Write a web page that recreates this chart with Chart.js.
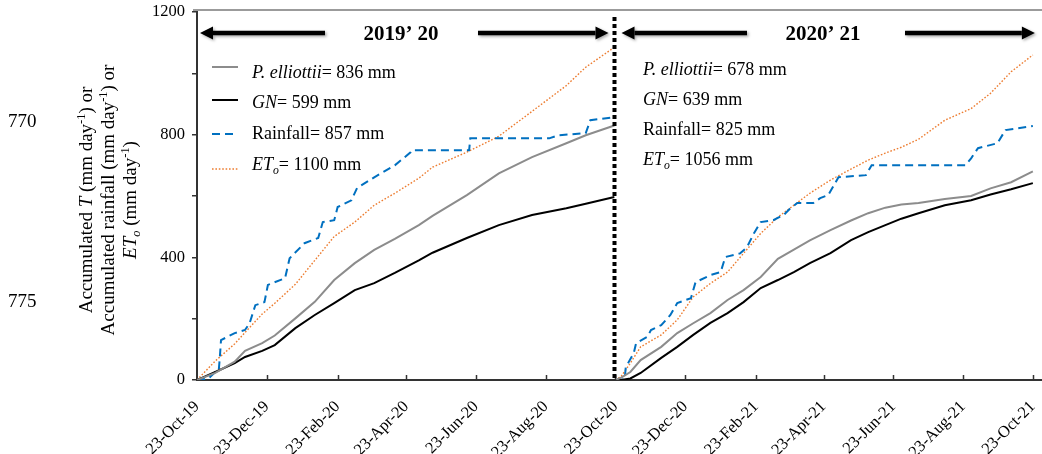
<!DOCTYPE html>
<html>
<head>
<meta charset="utf-8">
<script src="https://cdn.jsdelivr.net/npm/chart.js@4.4.0/dist/chart.umd.min.js"></script>
<style>
  html, body { margin: 0; padding: 0; background: #fff; }
</style>
</head>
<body>
<canvas id="chart" width="1042" height="454"></canvas>
<script>
// x axis: days since 23-Oct-19
const tickDays = [0, 61, 123, 183, 244, 305, 366, 427, 489, 548, 609, 670, 731];
const tickLabels = ['23-Oct-19', '23-Dec-19', '23-Feb-20', '23-Apr-20', '23-Jun-20', '23-Aug-20',
  '23-Oct-20', '23-Dec-20', '23-Feb-21', '23-Apr-21', '23-Jun-21', '23-Aug-21', '23-Oct-21'];
const yLabelled = [0, 400, 800, 1200];
const splitDay = 366;

// season 2019'20
const days1 = [0, 16, 33, 42, 57, 68, 86, 103, 120, 138, 155, 173, 194, 206, 236, 264, 293, 323, 340, 365];
const pinus1 = [0, 23, 60, 95, 120, 145, 201, 255, 326, 381, 424, 460, 505, 535, 603, 674, 727, 772, 798, 830];
const gn1 = [0, 26, 55, 75, 95, 114, 169, 212, 251, 293, 316, 349, 390, 415, 463, 505, 538, 560, 575, 597];
const eto1 = [0, 62, 118, 155, 215, 250, 312, 390, 468, 515, 570, 609, 658, 694, 743, 795, 876, 960, 1020, 1085];
const rainDays1 = [0, 10, 16, 19, 20, 21, 33, 42, 46, 51, 59, 62, 77, 81, 94, 106, 110, 120, 123, 135, 140,
  155, 173, 187, 188, 238, 239, 308, 316, 340, 344, 365];
const rain1 = [0, 5, 26, 30, 75, 130, 153, 163, 185, 244, 254, 310, 332, 397, 446, 463, 515, 521, 564, 586, 626,
  661, 700, 743, 749, 749, 788, 788, 798, 805, 847, 857];

// season 2020'21
const days2 = [366, 371, 379, 388, 406, 420, 434, 449, 464, 478, 493, 508, 522, 536, 554, 572, 587, 602, 616,
  631, 654, 677, 694, 712, 731];
const pinus2 = [0, 8, 26, 65, 108, 153, 185, 218, 261, 293, 336, 395, 425, 455, 489, 520, 544, 562, 572,
  577, 590, 600, 625, 645, 680];
const gn2 = [0, 0, 5, 23, 72, 108, 147, 186, 218, 254, 300, 326, 352, 381, 414, 456, 482, 505, 526,
  544, 570, 586, 605, 622, 642];
const eto2 = [0, 12, 55, 108, 147, 196, 271, 315, 352, 413, 478, 531, 570, 609, 652, 688, 717, 740, 759,
  785, 847, 885, 935, 1005, 1060];
const rainDays2 = [366, 374, 375, 382, 384, 394, 397, 406, 414, 420, 432, 436, 449, 458, 462, 475, 481, 487,
  493, 504, 513, 519, 525, 539, 545, 552, 561, 585, 589, 590, 672, 677, 683, 700, 707, 731];
const rain2 = [0, 2, 42, 88, 120, 141, 163, 179, 212, 251, 267, 319, 342, 352, 401, 413, 433, 478,
  515, 521, 538, 560, 577, 577, 593, 603, 661, 668, 694, 700, 700, 723, 756, 772, 815, 828];

const totals1 = [836, 599, 857, 1100];
const totals2 = [678, 639, 825, 1056];

const SERIF = '"Liberation Serif", "Times New Roman", serif';
const styles = {
  pinus: { color: '#8c8c8c', width: 2, dash: [] },
  gn: { color: '#000000', width: 2, dash: [] },
  rain: { color: '#0070C0', width: 2, dash: [8, 5] },
  eto: { color: '#ED7D31', width: 1.4, dash: [1.6, 1.8] }
};

function series(days, vals, st) {
  return {
    data: days.map((d, i) => ({ x: d, y: vals[i] })),
    borderColor: st.color,
    borderWidth: st.width,
    borderDash: st.dash,
    pointRadius: 0,
    tension: 0,
    fill: false
  };
}

// rich text: runs of {t, i, b, sub, sup}
function runFont(r, size) {
  const s = (r.sub || r.sup) ? size * 0.65 : size;
  return (r.i ? 'italic ' : '') + (r.b ? 'bold ' : '') + s + 'px ' + SERIF;
}
function runsWidth(ctx, runs, size) {
  let w = 0;
  runs.forEach(r => { ctx.font = runFont(r, size); w += ctx.measureText(r.t).width; });
  return w;
}
function drawRuns(ctx, runs, x, y, size) {
  runs.forEach(r => {
    ctx.font = runFont(r, size);
    let dy = 0;
    if (r.sub) dy = size * 0.22;
    if (r.sup) dy = -size * 0.38;
    ctx.fillText(r.t, x, y + dy);
    x += ctx.measureText(r.t).width;
  });
}

function legendRuns(name, total) {
  if (name === 'pinus') return [{ t: 'P. elliottii', i: true }, { t: '= ' + total + ' mm' }];
  if (name === 'gn') return [{ t: 'GN', i: true }, { t: '= ' + total + ' mm' }];
  if (name === 'rain') return [{ t: 'Rainfall= ' + total + ' mm' }];
  return [{ t: 'ET', i: true }, { t: 'o', i: true, sub: true }, { t: '= ' + total + ' mm' }];
}

function arrow(ctx, x0, x1, y) {
  // shaft from x0 to head at x1
  const dir = x1 > x0 ? 1 : -1;
  const headL = 13, headW = 6.5;
  ctx.beginPath();
  ctx.moveTo(x0, y);
  ctx.lineTo(x1 - dir * headL, y);
  ctx.lineWidth = 4.5;
  ctx.strokeStyle = '#000';
  ctx.stroke();
  ctx.beginPath();
  ctx.moveTo(x1, y);
  ctx.lineTo(x1 - dir * headL, y - headW);
  ctx.lineTo(x1 - dir * headL, y + headW);
  ctx.closePath();
  ctx.fillStyle = '#000';
  ctx.fill();
}

const decor = {
  id: 'decor',
  afterDraw(chart) {
    const ctx = chart.ctx;
    const xs = chart.scales.x;
    const area = chart.chartArea;
    ctx.save();

    // frame line on top
    ctx.strokeStyle = '#7a7a7a';
    ctx.lineWidth = 1.3;
    ctx.beginPath();
    ctx.moveTo(area.left - 4, 10);
    ctx.lineTo(chart.width, 10);
    ctx.stroke();

    // x tick marks, pointing into the plot
    ctx.strokeStyle = '#333';
    ctx.lineWidth = 1.5;
    tickDays.forEach(d => {
      if (d === 0) return;
      const px = Math.round(xs.getPixelForValue(d)) + 0.5;
      ctx.beginPath();
      ctx.moveTo(px, area.bottom);
      ctx.lineTo(px, area.bottom - 5);
      ctx.stroke();
    });

    // season divider
    const sx = xs.getPixelForValue(splitDay) - 1;
    ctx.beginPath();
    ctx.setLineDash([4, 3]);
    ctx.lineWidth = 4;
    ctx.strokeStyle = '#000';
    ctx.moveTo(sx, 17);
    ctx.lineTo(sx, area.bottom);
    ctx.stroke();
    ctx.setLineDash([]);

    // season arrows and titles
    const ay = 33;
    ctx.save();
    ctx.shadowColor = 'rgba(0,0,0,0.35)';
    ctx.shadowBlur = 3;
    ctx.shadowOffsetX = 1.5;
    ctx.shadowOffsetY = 1.5;
    arrow(ctx, 325, area.left + 3, ay);
    arrow(ctx, 478, sx - 6, ay);
    arrow(ctx, 747, sx + 7, ay);
    arrow(ctx, 905, xs.getPixelForValue(731) + 2, ay);
    ctx.restore();
    ctx.fillStyle = '#000';
    ctx.textAlign = 'center';
    ctx.textBaseline = 'alphabetic';
    ctx.font = 'bold 21px ' + SERIF;
    ctx.fillText('2019\u2019 20', 401, 40);
    ctx.fillText('2020\u2019 21', 823, 40);

    // legend, season 1
    ctx.textAlign = 'left';
    const names = ['pinus', 'gn', 'rain', 'eto'];
    const rows1 = [78, 108, 139, 170];
    const sampleY = [67, 100, 134, 169];
    names.forEach((n, i) => {
      const st = styles[n];
      ctx.beginPath();
      ctx.setLineDash(st.dash);
      ctx.lineWidth = st.width;
      ctx.strokeStyle = st.color;
      ctx.moveTo(212, sampleY[i]);
      ctx.lineTo(238, sampleY[i]);
      ctx.stroke();
      ctx.setLineDash([]);
      ctx.fillStyle = '#000';
      drawRuns(ctx, legendRuns(n, totals1[i]), 252, rows1[i], 18);
    });
    // totals, season 2
    const rows2 = [75, 105, 135, 165];
    names.forEach((n, i) => {
      drawRuns(ctx, legendRuns(n, totals2[i]), 643, rows2[i], 18);
    });

    // y axis title
    const titleLines = [
      [{ t: 'Accumulated ' }, { t: 'T', i: true }, { t: ' (mm day' }, { t: '-1', sup: true }, { t: ') or' }],
      [{ t: 'Accumulated rainfall (mm day' }, { t: '-1', sup: true }, { t: ') or' }],
      [{ t: 'ET', i: true }, { t: 'o', i: true, sub: true }, { t: ' (mm day' }, { t: '-1', sup: true }, { t: ')' }]
    ];
    const baseX = [92, 114, 136];
    const cy = (area.top + area.bottom) / 2 + 4;
    titleLines.forEach((runs, i) => {
      ctx.save();
      ctx.translate(baseX[i], cy);
      ctx.rotate(-Math.PI / 2);
      const w = runsWidth(ctx, runs, 19);
      drawRuns(ctx, runs, -w / 2, 0, 19);
      ctx.restore();
    });

    // manuscript line numbers
    ctx.font = '19px ' + SERIF;
    ctx.fillText('770', 8, 127);
    ctx.fillText('775', 8, 307);

    ctx.restore();
  }
};

new Chart(document.getElementById('chart'), {
  type: 'line',
  data: {
    datasets: [
      series(days1, pinus1, styles.pinus),
      series(days2, pinus2, styles.pinus),
      series(days1, gn1, styles.gn),
      series(days2, gn2, styles.gn),
      series(rainDays1, rain1, styles.rain),
      series(rainDays2, rain2, styles.rain),
      series(days1, eto1, styles.eto),
      series(days2, eto2, styles.eto)
    ]
  },
  options: {
    responsive: false,
    animation: false,
    layout: { padding: { top: 12, left: 0, right: 0, bottom: 0 } },
    plugins: {
      legend: { display: false },
      tooltip: { enabled: false }
    },
    scales: {
      x: {
        type: 'linear',
        min: 0,
        max: 739,
        afterFit: s => {
          s.height = 74;
          s.paddingLeft = 0;
          s.paddingRight = 0;
        },
        afterBuildTicks: s => { s.ticks = tickDays.map(v => ({ value: v })); },
        grid: { display: false },
        border: { display: true, color: '#333', width: 2 },
        ticks: {
          autoSkip: false,
          minRotation: 45,
          maxRotation: 45,
          padding: 9,
          color: '#000',
          font: { family: SERIF, size: 16.5 },
          callback: v => tickLabels[tickDays.indexOf(v)]
        }
      },
      y: {
        min: 0,
        max: 1200,
        afterFit: s => {
          s.width = 197;
          s.paddingTop = 0;
          s.paddingBottom = 0;
        },
        grid: { drawOnChartArea: false, drawTicks: true, tickLength: 5, color: '#333', lineWidth: 1.5 },
        border: { display: true, color: '#333', width: 2 },
        ticks: {
          stepSize: 200,
          padding: 7,
          color: '#000',
          font: { family: SERIF, size: 16.5 },
          callback: v => yLabelled.includes(v) ? v : ''
        }
      }
    }
  },
  plugins: [decor]
});
</script>
</body>
</html>
